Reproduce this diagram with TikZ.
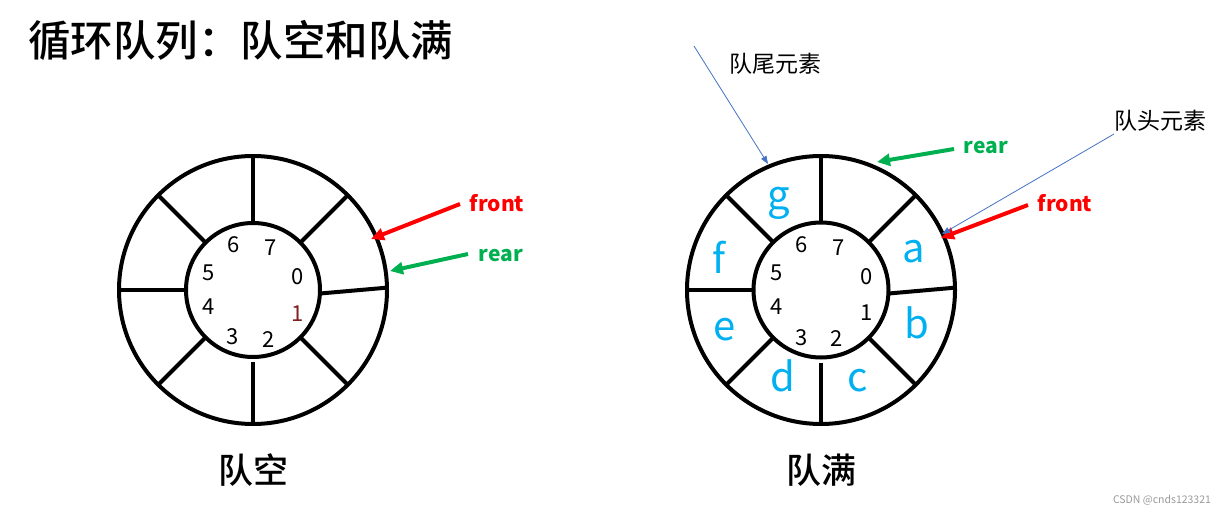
\documentclass[tikz,border=0pt]{standalone}
\usepackage{fontspec}
\setmainfont{Noto Sans CJK SC}
\newfontfamily\cjkmed{Noto Sans CJK SC Medium}
\usetikzlibrary{arrows.meta}
\definecolor{elemblue}{HTML}{00B0F0}
\definecolor{ptrred}{HTML}{FF0000}
\definecolor{ptrgreen}{HTML}{00B050}
\definecolor{noteblue}{HTML}{4472C4}
\definecolor{idxred}{HTML}{7F1F1F}
\begin{document}
\begin{tikzpicture}[x=1pt,y=-1pt,
  ring/.style={circle, draw, line width=4pt, inner sep=0pt, outer sep=0pt},
  spoke/.style={line width=4pt},
  idx/.style={font=\fontsize{22}{22}\selectfont, inner sep=0pt},
  elem/.style={font=\fontsize{40}{40}\selectfont, text=elemblue, inner sep=0pt},
  ptrlabel/.style={font=\fontsize{21}{21}\selectfont\bfseries, inner sep=0pt},
  ptr/.style={line width=4pt, -{Triangle[length=13pt,width=12pt]}},
  note/.style={font=\fontsize{23}{23}\selectfont, inner sep=0pt},
  notearrow/.style={draw=noteblue, line width=0.8pt, -{Triangle[length=8pt,width=6pt]}, color=noteblue},
  caption/.style={font=\fontsize{35}{35}\selectfont\cjkmed, inner sep=0pt}
]
\useasboundingbox (0,0) rectangle (1224,514);

% title
\node[font=\fontsize{42.5}{42.5}\selectfont\cjkmed, anchor=west, inner sep=0pt] (title) at (28,40) {循环队列：队空和队满};

% ---------- left ring (empty queue) ----------
\node[ring, minimum size=268pt] (LO) at (253,290) {};
\node[ring, minimum size=134pt] (LI) at (253,290) {};
\foreach \a in {45,90,135,180,225,315} \draw[spoke] (LI.\a) -- (LO.\a);
\draw[spoke] (LI.-3) -- (LO.1);
\draw[spoke, shorten <=5pt] (LI.270) -- (LO.270);

\node[idx] (L6) at (234,245) {6};
\node[idx] (L7) at (271,248) {7};
\node[idx] (L5) at (209,273) {5};
\node[idx] (L0) at (298,277) {0};
\node[idx] (L4) at (209,307) {4};
\node[idx, text=idxred] (L1) at (298,314) {1};
\node[idx] (L3) at (233,337) {3};
\node[idx] (L2) at (269,340) {2};

\node[ptrlabel, text=ptrred] (Lfront) at (497,203) {front};
\node[ptrlabel, text=ptrgreen] (Lrear) at (501,256) {rear};
\coordinate (LfrontT) at (460,204);
\coordinate (LfrontH) at (371,239);
\coordinate (LrearT) at (468,254);
\coordinate (LrearH) at (390,271);
\draw[ptr, ptrred] (LfrontT) -- (LfrontH);
\draw[ptr, ptrgreen] (LrearT) -- (LrearH);

\node[caption] (Lcap) at (253,470) {队空};

% ---------- right ring (full queue) ----------
\node[ring, minimum size=268pt] (RO) at (821,290) {};
\node[ring, minimum size=135pt] (RI) at (821,290) {};
\foreach \a in {45,90,135,180,225,315} \draw[spoke] (RI.\a) -- (RO.\a);
\draw[spoke] (RI.-3) -- (RO.1);
\draw[spoke, shorten <=5pt] (RI.270) -- (RO.270);

\node[idx] (R6) at (802,245) {6};
\node[idx] (R7) at (839,248) {7};
\node[idx] (R5) at (777,273) {5};
\node[idx] (R0) at (867,277) {0};
\node[idx] (R4) at (777,307) {4};
\node[idx] (R1) at (867,313) {1};
\node[idx] (R3) at (802,338) {3};
\node[idx] (R2) at (837,339) {2};

\node[elem] (Eg) at (779,203) {g};
\node[elem] (Ef) at (719,257) {f};
\node[elem] (Ee) at (725,330) {e};
\node[elem] (Ed) at (783,376) {d};
\node[elem] (Ec) at (858,381) {c};
\node[elem] (Eb) at (917,323) {b};
\node[elem] (Ea) at (914,252) {a};

\node[ptrlabel, text=ptrgreen] (Rrear) at (986,148) {rear};
\node[ptrlabel, text=ptrred] (Rfront) at (1065,203) {front};
\coordinate (RrearT) at (954,149);
\coordinate (RrearH) at (877,162);
\coordinate (RfrontT) at (1028,205);
\coordinate (RfrontH) at (941,238);
\draw[ptr, ptrgreen] (RrearT) -- (RrearH);
\draw[ptr, ptrred] (RfrontT) -- (RfrontH);

\node[note] (tailnote) at (775,64) {队尾元素};
\node[note] (headnote) at (1160,121) {队头元素};
\coordinate (tailT) at (694,46);
\coordinate (tailH) at (768,164);
\coordinate (headT) at (1114,134);
\coordinate (headH) at (942,234);
\draw[notearrow] (tailT) -- (tailH);
\draw[notearrow] (headT) -- (headH);

\node[caption] (Rcap) at (821,470) {队满};

% watermark
\node[font=\fontsize{10.5}{10.5}\selectfont, text=black!40, inner sep=0pt] (wm) at (1162,500) {CSDN @cnds123321};
\end{tikzpicture}
\end{document}
